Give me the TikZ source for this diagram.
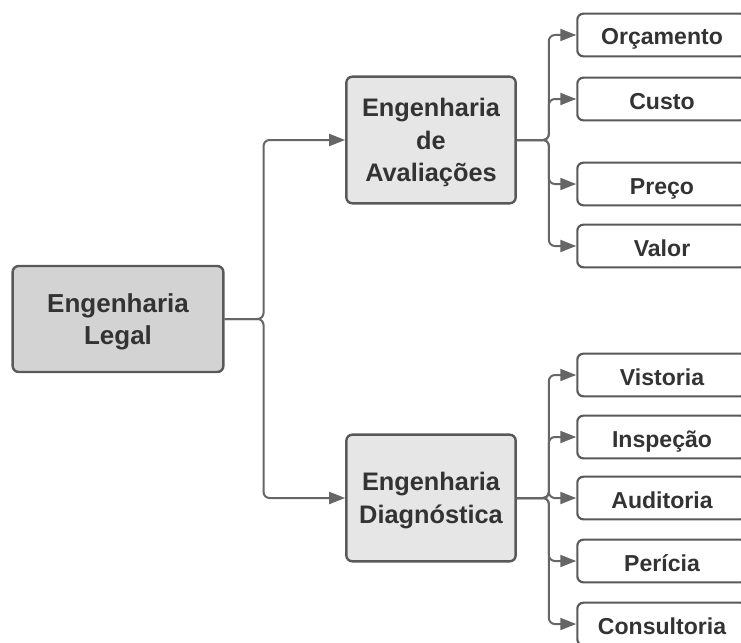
\documentclass[tikz,border=0pt]{standalone}
\usepackage{fontspec}
\setmainfont{Liberation Sans}
\usetikzlibrary{arrows.meta}

\definecolor{boxline}{HTML}{595959}
\definecolor{linkline}{HTML}{666666}
\definecolor{txt}{HTML}{333333}
\definecolor{rootfill}{HTML}{D3D3D3}
\definecolor{midfill}{HTML}{E6E6E6}

\tikzset{
 rootbox/.style={rectangle, draw=boxline, line width=1.8pt, rounded corners=4.5pt,
  fill=rootfill, text=txt, align=center, font=\fontsize{19.5}{24}\selectfont\bfseries,
  text depth=0pt, minimum width=158pt, minimum height=79.5pt},
 midbox/.style={rectangle, draw=boxline, line width=1.8pt, rounded corners=4.5pt,
  fill=midfill, text=txt, align=center, font=\fontsize{19}{24.4}\selectfont\bfseries,
  text depth=0pt, minimum width=127pt, minimum height=95pt},
 leafbox/.style={rectangle, draw=boxline, line width=1.6pt, rounded corners=4.5pt,
  fill=white, text=txt, align=center, font=\fontsize{17.3}{21}\selectfont\bfseries,
  text height=15pt, text depth=0pt, minimum width=127pt, minimum height=32pt},
 link/.style={draw=linkline, line width=1.5pt, rounded corners=4.5pt,
  -{Triangle[length=12pt,width=9pt]}}
}

\begin{document}
\begin{tikzpicture}[x=0.75pt, y=-0.75pt]
 \useasboundingbox (0,0) rectangle (741,642);

 \node[rootbox] (legal) at (118,319) {Engenharia\\Legal};
 \node[midbox] (aval) at (431,140) {Engenharia\\de\\Avaliações};
 \node[midbox] (diag) at (431,498) {Engenharia\\Diagnóstica};

 \node[leafbox] (orc) at (662,35) {Orçamento};
 \node[leafbox] (custo) at (662,99) {Custo};
 \node[leafbox] (preco) at (662,184) {Preço};
 \node[leafbox] (valor) at (662,246) {Valor};

 \node[leafbox] (vist) at (662,375) {Vistoria};
 \node[leafbox] (insp) at (662,437) {Inspeção};
 \node[leafbox] (audit) at (662,498) {Auditoria};
 \node[leafbox] (peric) at (662,561) {Perícia};
 \node[leafbox] (consult) at (662,624) {Consultoria};

 \draw[link] (legal.east) -- ++(39,0) |- (aval.west);
 \draw[link] (legal.east) -- ++(39,0) |- (diag.west);

 \foreach \leaf in {orc, custo, preco, valor}
  \draw[link] (aval.east) -- ++(32,0) |- (\leaf.west);

 \foreach \leaf in {vist, insp, audit, peric, consult}
  \draw[link] (diag.east) -- ++(32,0) |- (\leaf.west);

\end{tikzpicture}
\end{document}
